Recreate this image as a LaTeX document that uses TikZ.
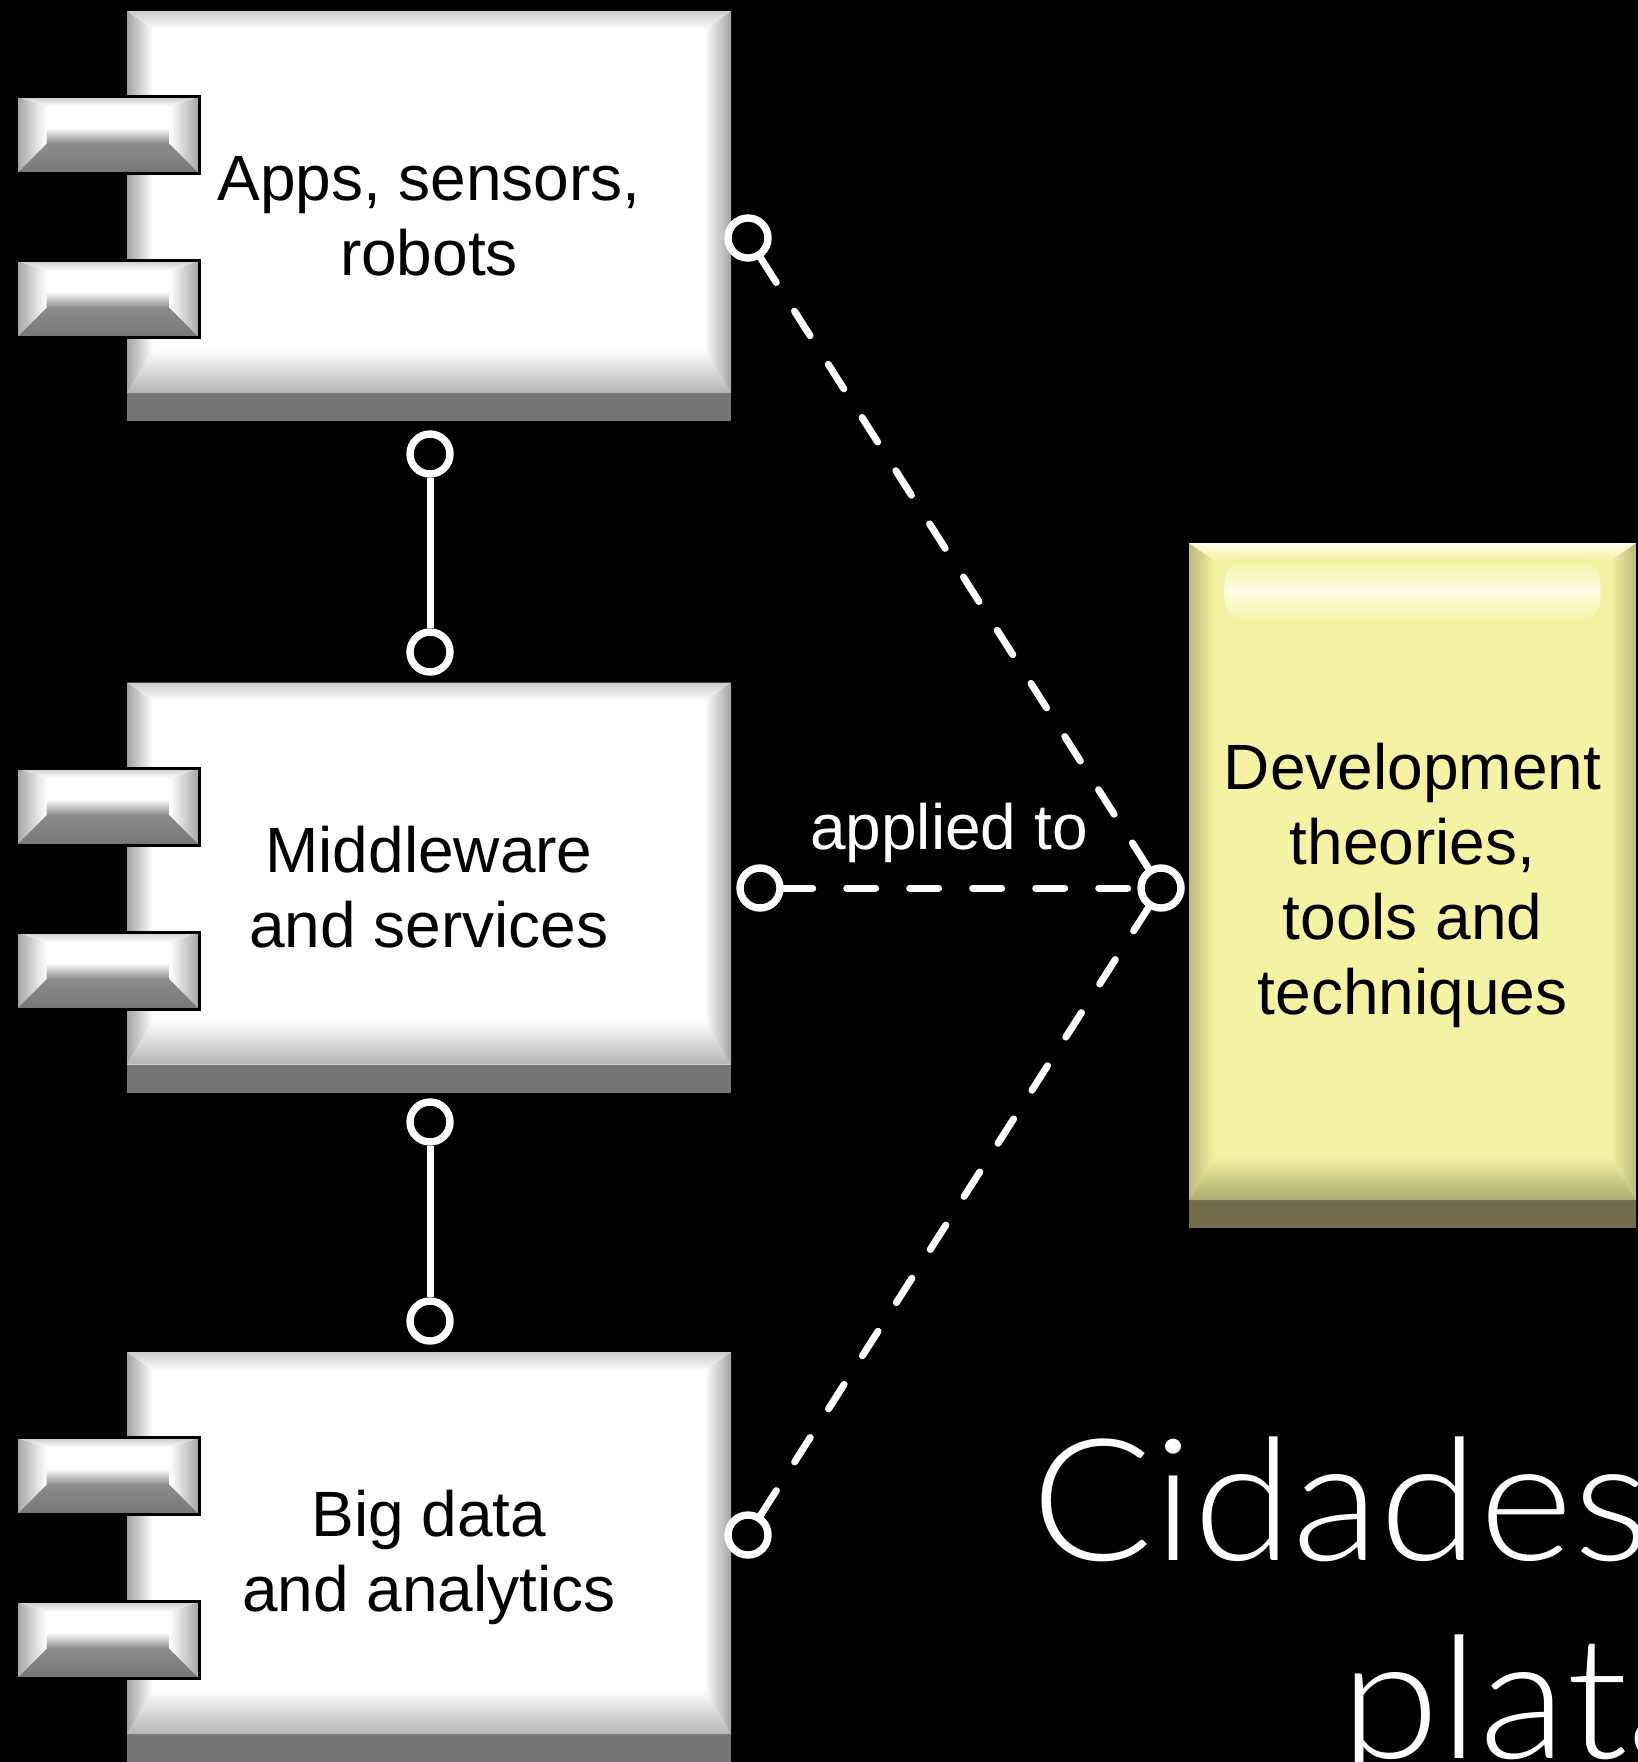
\documentclass[tikz,border=0pt]{standalone}
\usepackage{fontspec}
\setmainfont{Liberation Sans}
\newfontfamily\titlefont{Lato Light}[FakeStretch=1.06]
\usetikzlibrary{calc, positioning}

\definecolor{bandgray}{HTML}{767676}
\definecolor{sidegray}{HTML}{A2A2A2}
\definecolor{topgray}{HTML}{CACACA}
\definecolor{portgray}{HTML}{8C8C8C}
\definecolor{devyellow}{HTML}{F6F2A3}
\definecolor{sideyellow}{HTML}{BDB97D}
\definecolor{bandyellow}{HTML}{716E49}
\definecolor{topyellow}{HTML}{FFFEE6}
\newcommand{\boxfont}{\fontsize{32}{37.5}\selectfont}

\tikzset{
	bevel/.style n args={4}{fill=#1, inner sep=0pt, align=center, font=\boxfont,
		path picture={
			\coordinate (SW) at (path picture bounding box.south west);
			\coordinate (NE) at (path picture bounding box.north east);
			\coordinate (NW) at (SW|-NE);
			\coordinate (SE) at (NE|-SW);
			\fill[#3] (SW) rectangle ($(SE)+(0pt,14pt)$);
			\shade[top color=#1, bottom color=#3!55!#1] ($(SW)+(0pt,14pt)$) -- ($(SE)+(0pt,14pt)$) -- ($(SE)+(-13pt,36pt)$) -- ($(SW)+(13pt,36pt)$) -- cycle;
			\shade[left color=#2, right color=#1] ($(SW)+(0pt,14pt)$) -- (NW) -- ($(NW)+(13pt,-9pt)$) -- ($(SW)+(13pt,36pt)$) -- cycle;
			\shade[left color=#1, right color=#2] ($(SE)+(0pt,14pt)$) -- (NE) -- ($(NE)+(-13pt,-9pt)$) -- ($(SE)+(-13pt,36pt)$) -- cycle;
			\shade[top color=#4, bottom color=#1] (NW) -- (NE) -- ($(NE)+(-13pt,-9pt)$) -- ($(NW)+(13pt,-9pt)$) -- cycle;
		}},
	component/.style={bevel={white}{sidegray}{bandgray}{topgray}, minimum width=302pt, minimum height=205pt},
	devbox/.style={bevel={devyellow}{sideyellow}{bandyellow}{topyellow}, minimum width=223.5pt, minimum height=342.5pt},
	port/.style={draw=black, line width=1.5pt, fill=white, inner sep=0pt, minimum width=91.5pt, minimum height=38.5pt,
		path picture={
			\coordinate (SW) at (path picture bounding box.south west);
			\coordinate (NE) at (path picture bounding box.north east);
			\coordinate (NW) at (SW|-NE);
			\coordinate (SE) at (NE|-SW);
			\shade[top color=white, bottom color=portgray] ($(SW)+(15pt,15pt)$) rectangle ($(SE)+(-15pt,23pt)$);
			\shade[top color=portgray, bottom color=bandgray] (SW) -- (SE) -- ($(SE)+(-15pt,15pt)$) -- ($(SW)+(15pt,15pt)$) -- cycle;
			\shade[left color=sidegray, right color=white] (SW) -- (NW) -- ($(NW)+(15pt,-5pt)$) -- ($(SW)+(15pt,15pt)$) -- cycle;
			\shade[left color=white, right color=sidegray] (SE) -- (NE) -- ($(NE)+(-15pt,-5pt)$) -- ($(SE)+(-15pt,15pt)$) -- cycle;
			\shade[top color=topgray, bottom color=white] (NW) -- (NE) -- ($(NE)+(-15pt,-5pt)$) -- ($(NW)+(15pt,-5pt)$) -- cycle;
		}},
	socket/.style={circle, draw=white, fill=black, line width=3.7pt, minimum size=20pt, inner sep=0pt},
	wire/.style={white, line width=3.5pt},
	dashwire/.style={wire, line cap=round, dash pattern=on 14.5pt off 17pt},
	title/.style={anchor=base west, inner sep=0pt, white, font=\titlefont\fontsize{85}{100}\selectfont},
}

\begin{document}
\begin{tikzpicture}[x=0.5pt, y=-0.5pt]
	\clip (0,0) rectangle (1638,1762);
	\fill[black] (0,0) rectangle (1638,1762);

	% layers
	\node[component] (apps) at (429,216) {Apps, sensors,\\robots};
	\node[component] (mid) at (429,887.5) {Middleware\\and services};
	\node[component] (big) at (429,1557) {Big data\\and analytics};
	\node[devbox] (dev) at (1412.5,885.5) {Development\\theories,\\tools and\\techniques};
	% glossy strip at the top of the yellow box
	\shade[rounded corners=12pt, top color=devyellow, bottom color=devyellow, middle color=topyellow]
		($(dev.north west)+(18pt,-8pt)$) rectangle ($(dev.north east)+(-18pt,-40pt)$);

	\foreach \name in {apps, mid, big} {
		\node[port] (\name-p1) at ($(\name.north west)+(-18.5,124.5)$) {};
		\node[port] (\name-p2) at ($(\name.north west)+(-18.5,288.5)$) {};
	}

	% sockets
	\node[socket] (s1) at (430,454) {};
	\node[socket] (s2) at (430,652) {};
	\node[socket] (s3) at (430,1122) {};
	\node[socket] (s4) at (430,1321) {};
	\node[socket] (r1) at (748,238) {};
	\node[socket] (r2) at (760,888) {};
	\node[socket] (r3) at (748,1535) {};
	\node[socket] (hub) at (1161,888) {};

	\draw[wire] (s1) -- (s2);
	\draw[wire] (s3) -- (s4);
	\draw[dashwire] (r1) -- (hub);
	\draw[dashwire] (r2) -- node[midway, above=10.8pt, xshift=-5.75pt, inner sep=0pt, white, font=\boxfont] (applied) {applied to} (hub);
	\draw[dashwire] (r3) -- (hub);

	% title, cut by the page edge
	\node[title] (title1) at (1031,1560) {Cidades};
	\node[title] (title2) at (1340,1758) {plata};
\end{tikzpicture}
\end{document}
